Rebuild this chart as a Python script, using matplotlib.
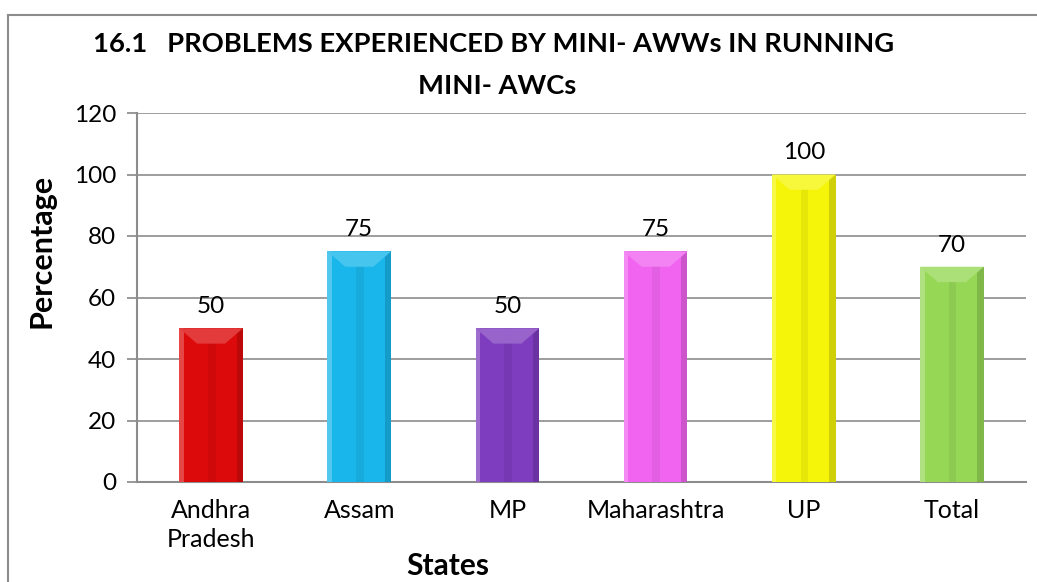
import matplotlib
matplotlib.use("Agg")
import matplotlib.pyplot as plt
from matplotlib.patches import Polygon, Rectangle
from matplotlib.lines import Line2D
from matplotlib.colors import to_rgb
import numpy as np

states = ["Andhra\nPradesh", "Assam", "MP", "Maharashtra", "UP", "Total"]
percent = [50, 75, 50, 75, 100, 70]
bar_colors = ["#DC0A0A", "#18B6EA", "#7E3CBE", "#F064F0", "#F5F50A", "#96D756"]

plt.rcParams["font.family"] = ["Lato", "DejaVu Sans"]

W, H = 1037, 582
fig = plt.figure(figsize=(W / 100, H / 100), dpi=100)
ax = fig.add_axes([137 / W, 1 - 482 / H, 889 / W, 369 / H])

x = np.arange(len(states))
bars = ax.bar(x, percent, width=0.43, color=bar_colors, zorder=3)


def shade(c, f):
    r, g, b = to_rgb(c)
    if f > 0:
        return (r + (1 - r) * f, g + (1 - g) * f, b + (1 - b) * f)
    return (r * (1 + f), g * (1 + f), b * (1 + f))


# fake the bevelled look of the bars
for b, c, v in zip(bars, bar_colors, percent):
    x0, w, h = b.get_x(), b.get_width(), b.get_height()
    ax.add_patch(Rectangle((x0, 0), w * 0.07, h, color=shade(c, 0.25), lw=0, zorder=4))
    ax.add_patch(Rectangle((x0 + w * 0.9, 0), w * 0.1, h, color=shade(c, -0.15), lw=0, zorder=4))
    ax.add_patch(Rectangle((x0 + w * 0.45, 0), w * 0.12, h, color=shade(c, -0.06), lw=0, zorder=4))
    ax.add_patch(Polygon([(x0, h), (x0 + w, h), (x0 + w * 0.72, h - 5), (x0 + w * 0.28, h - 5)],
                         closed=True, color=shade(c, 0.2), lw=0, zorder=5))
    ax.text(x0 + w / 2, h + 7, f"{v}", ha="center", va="center", fontsize=17.5, zorder=6)

ax.set_ylim(0, 120)
ax.set_xlim(-0.5, len(states) - 0.5)
ax.set_yticks(range(0, 121, 20))
ax.set_xticks(x)
ax.set_xticklabels(states, fontsize=18, linespacing=1.35)
ax.tick_params(axis="y", labelsize=17.5, length=7, color="#888888", width=1.2, pad=8)
ax.tick_params(axis="x", length=0, pad=12)
ax.grid(axis="y", color="#8c8c8c", lw=1.2, zorder=0)
for s in ["top", "right"]:
    ax.spines[s].set_visible(False)
for s in ["left", "bottom"]:
    ax.spines[s].set_color("#8c8c8c")
    ax.spines[s].set_linewidth(1.5)

fig.text(494 / W, 1 - 44 / H, "16.1   PROBLEMS EXPERIENCED BY MINI- AWWs IN RUNNING",
         ha="center", va="center", fontsize=19.7, fontweight="bold")
fig.text(497 / W, 1 - 86 / H, "MINI- AWCs",
         ha="center", va="center", fontsize=19.7, fontweight="bold")
fig.text(42 / W, 1 - 251 / H, "Percentage", rotation=90,
         ha="center", va="center", fontsize=22, fontweight="bold")
fig.text(448 / W, 1 - 566 / H, "States",
         ha="center", va="center", fontsize=21.5, fontweight="bold")

# outer chart frame (only left and top visible in the crop)
fig.add_artist(Line2D([8 / W, 8 / W], [0, 1 - 15 / H], color="#8c8c8c", lw=1.5))
fig.add_artist(Line2D([8 / W, 1], [1 - 15 / H, 1 - 15 / H], color="#8c8c8c", lw=1.5))

fig.savefig("out.png", dpi=100)
